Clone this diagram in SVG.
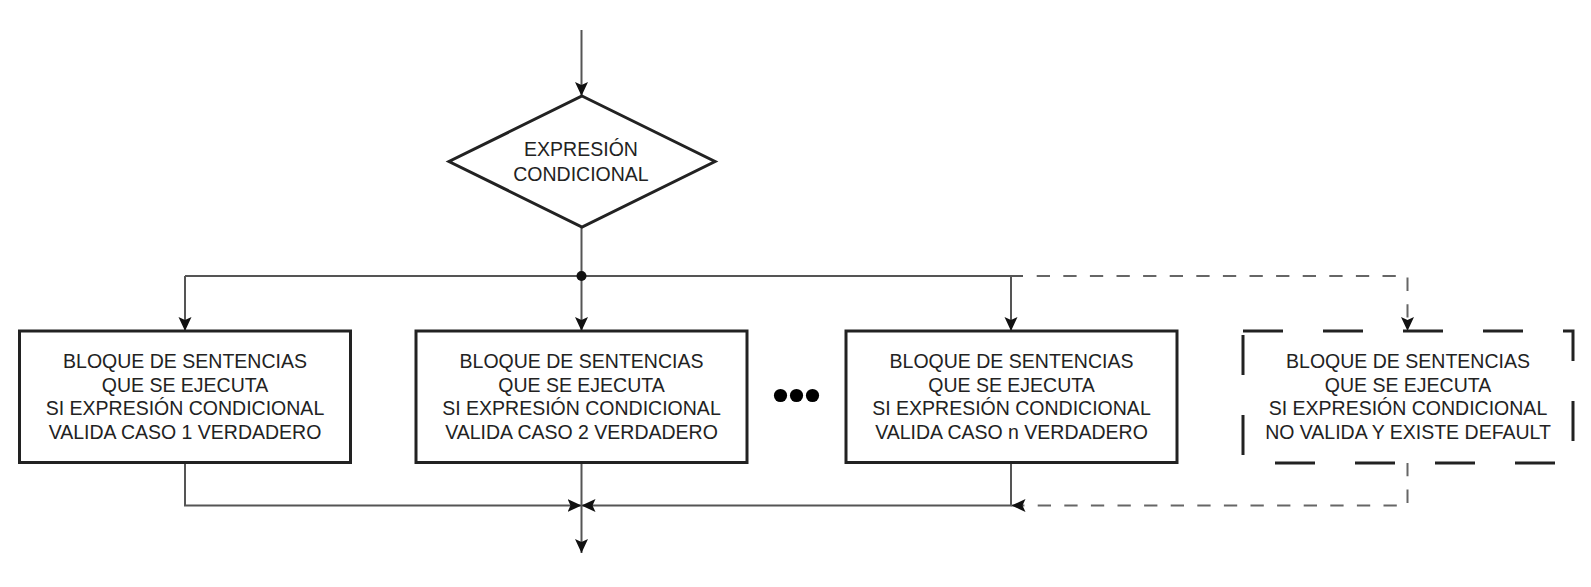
<svg xmlns="http://www.w3.org/2000/svg" width="1591" height="587" viewBox="0 0 1591 587">
<style>
.box{fill:#fff;stroke:#222;stroke-width:3}
.dbox{fill:#fff;stroke:#222;stroke-width:3;stroke-dasharray:40 40}
.ln{fill:none;stroke:#555;stroke-width:2}
.dl{fill:none;stroke:#666;stroke-width:2;stroke-dasharray:13.3 13.3}
.t{font-family:"Liberation Sans",Arial,Helvetica,sans-serif;font-size:19.5px;fill:#222;text-anchor:middle}
</style>
<defs>
<marker id="ah" viewBox="0 0 14 14" refX="14" refY="7" markerWidth="14" markerHeight="14" markerUnits="userSpaceOnUse" orient="auto">
<path d="M0,0.5 L14,7 L0,13.5 L3,7 Z" fill="#111"/>
</marker>
</defs>
<rect width="1591" height="587" fill="#fff"/>
<g id="connectors">
<path class="ln" d="M581.5,30 V96" marker-end="url(#ah)"/>
<path class="ln" d="M581.5,227 V331" marker-end="url(#ah)"/>
<path class="ln" d="M185,276 H1023"/>
<path class="ln" d="M185,276 V331" marker-end="url(#ah)"/>
<path class="ln" d="M1011,276 V331" marker-end="url(#ah)"/>
<path class="dl" d="M1036.7,276 H1407.5 V331" marker-end="url(#ah)"/>
<circle cx="581.5" cy="276" r="5" fill="#111"/>
<path class="ln" d="M185,462 V505.5 H581.5" marker-end="url(#ah)"/>
<path class="ln" d="M1011,462 V505.5 H581.5" marker-end="url(#ah)"/>
<path class="ln" d="M581.5,462 V553" marker-end="url(#ah)"/>
<path class="dl" d="M1407.5,463 V505.5 H1011.5" marker-end="url(#ah)"/>
</g>
<g id="cond">
<path class="box" d="M582,96 L715,161.5 L582,227 L449,161.5 Z"/>
<text class="t" x="581" y="156">EXPRESIÓN</text>
<text class="t" x="581" y="181">CONDICIONAL</text>
</g>
<g id="caso1">
<rect class="box" x="19.5" y="331" width="331" height="131.5"/>
<text class="t" x="185" y="368">BLOQUE DE SENTENCIAS</text>
<text class="t" x="185" y="391.6">QUE SE EJECUTA</text>
<text class="t" x="185" y="415.2">SI EXPRESIÓN CONDICIONAL</text>
<text class="t" x="185" y="438.8">VALIDA CASO 1 VERDADERO</text>
</g>
<g id="caso2">
<rect class="box" x="416" y="331" width="331" height="131.5"/>
<text class="t" x="581.5" y="368">BLOQUE DE SENTENCIAS</text>
<text class="t" x="581.5" y="391.6">QUE SE EJECUTA</text>
<text class="t" x="581.5" y="415.2">SI EXPRESIÓN CONDICIONAL</text>
<text class="t" x="581.5" y="438.8">VALIDA CASO 2 VERDADERO</text>
</g>
<g id="ellipsis">
<circle cx="780.5" cy="395.5" r="6.6" fill="#000"/>
<circle cx="796.5" cy="395.5" r="6.6" fill="#000"/>
<circle cx="812.5" cy="395.5" r="6.6" fill="#000"/>
</g>
<g id="cason">
<rect class="box" x="846" y="331" width="331" height="131.5"/>
<text class="t" x="1011.5" y="368">BLOQUE DE SENTENCIAS</text>
<text class="t" x="1011.5" y="391.6">QUE SE EJECUTA</text>
<text class="t" x="1011.5" y="415.2">SI EXPRESIÓN CONDICIONAL</text>
<text class="t" x="1011.5" y="438.8">VALIDA CASO n VERDADERO</text>
</g>
<g id="default">
<path class="dbox" d="M1243,331 H1573 V463 H1243 Z"/>
<text class="t" x="1408" y="368">BLOQUE DE SENTENCIAS</text>
<text class="t" x="1408" y="391.6">QUE SE EJECUTA</text>
<text class="t" x="1408" y="415.2">SI EXPRESIÓN CONDICIONAL</text>
<text class="t" x="1408" y="438.8">NO VALIDA Y EXISTE DEFAULT</text>
</g>
</svg>
